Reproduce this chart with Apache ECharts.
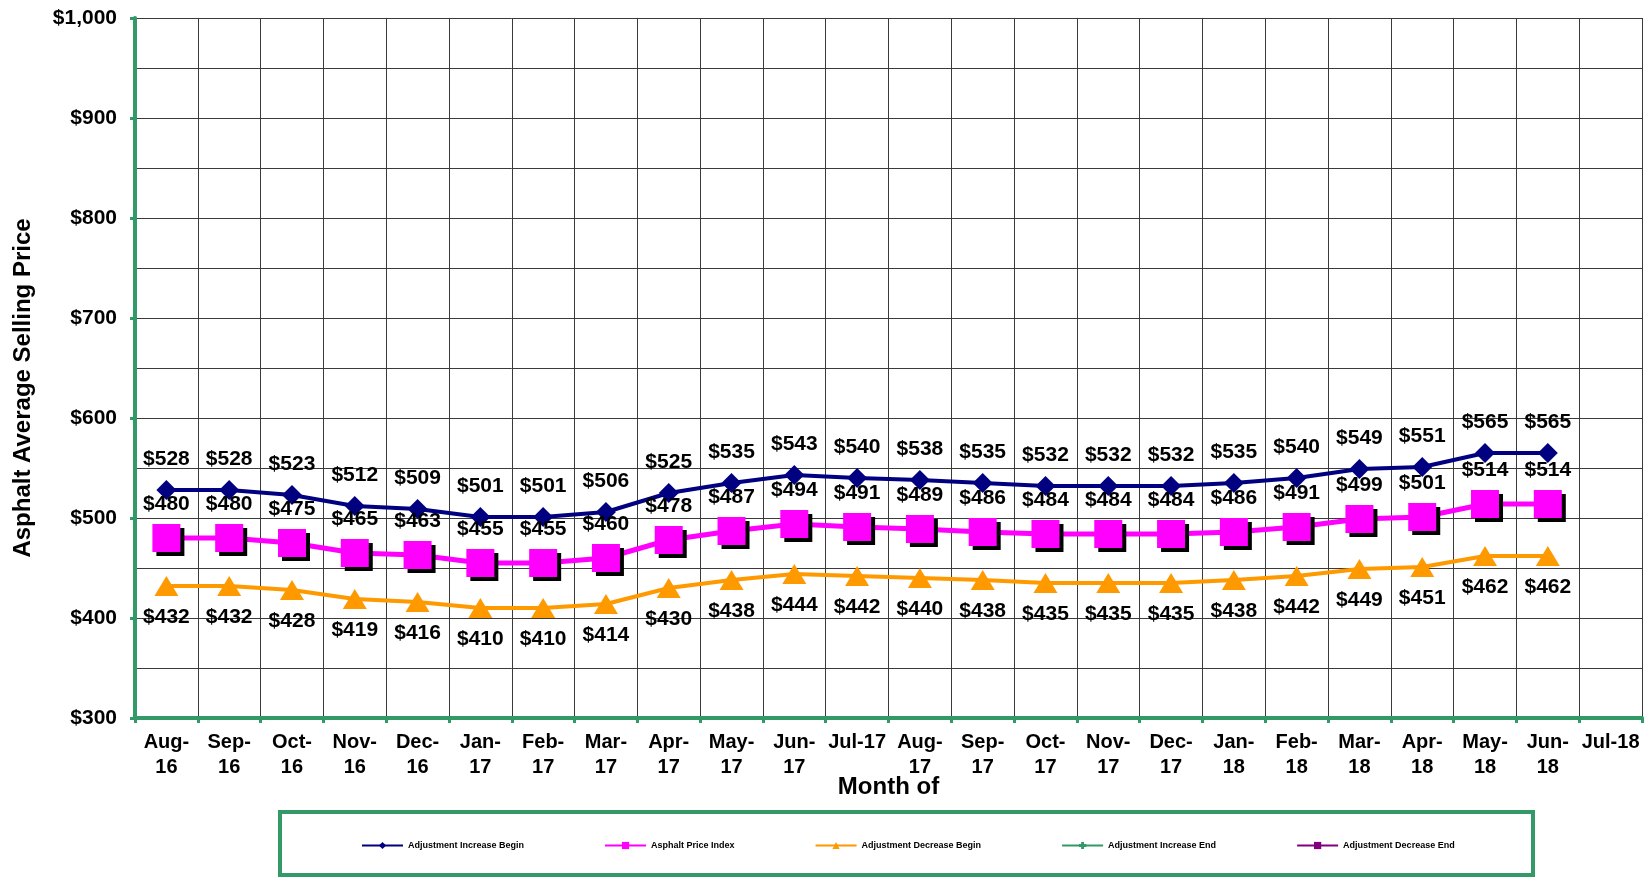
<!DOCTYPE html>
<html>
<head>
<meta charset="utf-8">
<script src="https://cdn.jsdelivr.net/npm/echarts@6/dist/echarts.min.js"></script>
<style>
  html, body { margin: 0; padding: 0; background: #fff; }
  #chart { width: 1649px; height: 878px; }
</style>
</head>
<body>
<div id="chart"></div>
<script>
// months on the x axis
const months = ['Aug-16', 'Sep-16', 'Oct-16', 'Nov-16', 'Dec-16', 'Jan-17', 'Feb-17', 'Mar-17',
  'Apr-17', 'May-17', 'Jun-17', 'Jul-17', 'Aug-17', 'Sep-17', 'Oct-17', 'Nov-17', 'Dec-17',
  'Jan-18', 'Feb-18', 'Mar-18', 'Apr-18', 'May-18', 'Jun-18', 'Jul-18'];

const increaseBegin = [528, 528, 523, 512, 509, 501, 501, 506, 525, 535, 543, 540, 538, 535,
  532, 532, 532, 535, 540, 549, 551, 565, 565];
const priceIndex = [480, 480, 475, 465, 463, 455, 455, 460, 478, 487, 494, 491, 489, 486,
  484, 484, 484, 486, 491, 499, 501, 514, 514];
const decreaseBegin = [432, 432, 428, 419, 416, 410, 410, 414, 430, 438, 444, 442, 440, 438,
  435, 435, 435, 438, 442, 449, 451, 462, 462];
const increaseEnd = [];
const decreaseEnd = [];

const green = '#339966';
const gridColor = '#3a3a3a';
const font = "'Liberation Sans', Arial, sans-serif";

const chart = echarts.init(document.getElementById('chart'));

const dollarLabel = (pos, dist) => ({
  show: true,
  position: pos,
  distance: dist,
  formatter: p => '$' + p.value,
  color: '#000',
  fontFamily: font,
  fontWeight: 'bold',
  fontSize: 21
});

chart.setOption({
  animation: false,
  textStyle: { fontFamily: font },
  grid: { left: 135, right: 7, top: 18, bottom: 160, containLabel: false },
  legend: {
    left: 361,
    top: 841,
    padding: 0,
    itemGap: 80,
    itemWidth: 41,
    itemHeight: 9,
    textStyle: { fontSize: 9, fontWeight: 'bold', color: '#000', fontFamily: font },
    data: ['Adjustment Increase Begin', 'Asphalt Price Index', 'Adjustment Decrease Begin',
      'Adjustment Increase End', 'Adjustment Decrease End']
  },
  // green frame round the legend
  graphic: [{
    type: 'rect',
    shape: { x: 280, y: 812, width: 1253, height: 63 },
    style: { fill: 'none', stroke: green, lineWidth: 4 }
  }],
  xAxis: {
    type: 'category',
    data: months,
    boundaryGap: true,
    name: 'Month of',
    nameLocation: 'middle',
    nameGap: 57,
    nameMoveOverlap: false,
    nameTextStyle: { fontSize: 24, fontWeight: 'bold', color: '#000', fontFamily: font },
    axisLine: { lineStyle: { color: green, width: 4 } },
    axisTick: { show: true, interval: 0, length: 5, lineStyle: { color: green, width: 3 } },
    axisLabel: {
      interval: 0,
      margin: 12,
      lineHeight: 25,
      fontSize: 20,
      fontWeight: 'bold',
      color: '#000',
      formatter: v => v.startsWith('Jul') ? v : v.replace('-', '-\n')
    },
    splitLine: { show: true, interval: 0, lineStyle: { color: gridColor, width: 1 } }
  },
  yAxis: {
    type: 'value',
    min: 300,
    max: 1000,
    interval: 100,
    name: 'Asphalt Average Selling Price',
    nameLocation: 'middle',
    nameGap: 100,
    nameTextStyle: {
      fontSize: 24, fontWeight: 'bold', color: '#000', fontFamily: font,
      padding: [0, 40, 0, 0]
    },
    axisLine: { show: true, lineStyle: { color: green, width: 4 } },
    axisTick: { show: true, length: 5, lineStyle: { color: green, width: 3 } },
    axisLabel: {
      margin: 18,
      fontSize: 21,
      fontWeight: 'bold',
      color: '#000',
      formatter: v => '$' + v.toLocaleString('en-US')
    },
    splitLine: { show: true, lineStyle: { color: gridColor, width: 1 } },
    minorTick: { show: false, splitNumber: 2 },
    minorSplitLine: { show: true, lineStyle: { color: gridColor, width: 1 } }
  },
  series: [
    {
      name: 'Adjustment Increase Begin',
      type: 'line',
      data: increaseBegin,
      symbol: 'diamond',
      symbolSize: 20,
      lineStyle: { color: '#000080', width: 4 },
      itemStyle: { color: '#000080' },
      label: dollarLabel('top', 10),
      z: 3
    },
    {
      name: 'Asphalt Price Index',
      type: 'line',
      data: priceIndex,
      symbol: 'rect',
      symbolSize: 28,
      lineStyle: { color: '#ff00ff', width: 5 },
      itemStyle: { color: '#ff00ff', shadowColor: '#000', shadowOffsetX: 4, shadowOffsetY: 4, shadowBlur: 0 },
      label: dollarLabel('top', 9),
      z: 4
    },
    {
      name: 'Adjustment Decrease Begin',
      type: 'line',
      data: decreaseBegin,
      symbol: 'triangle',
      symbolSize: [24, 20],
      lineStyle: { color: '#ff9900', width: 4 },
      itemStyle: { color: '#ff9900' },
      label: dollarLabel('bottom', 11),
      z: 2
    },
    {
      name: 'Adjustment Increase End',
      type: 'line',
      data: increaseEnd,
      symbol: 'path://M3,0h4v3h3v4h-3v3h-4v-3h-3v-4h3z',
      lineStyle: { color: green, width: 3 },
      itemStyle: { color: green }
    },
    {
      name: 'Adjustment Decrease End',
      type: 'line',
      data: decreaseEnd,
      symbol: 'rect',
      lineStyle: { color: '#800080', width: 3 },
      itemStyle: { color: '#800080' }
    }
  ]
});
</script>
</body>
</html>
